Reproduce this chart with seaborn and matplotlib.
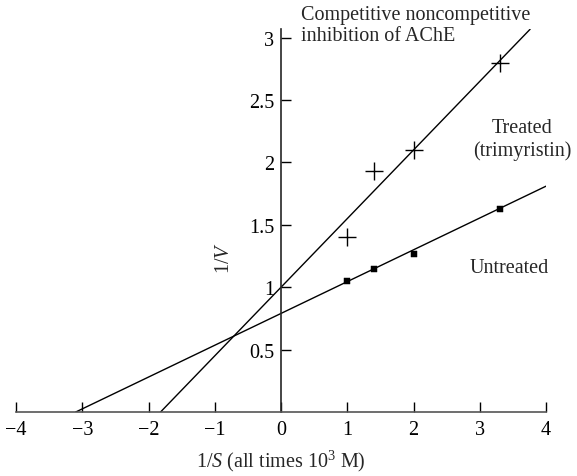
import matplotlib
matplotlib.use("Agg")
import matplotlib.pyplot as plt
import seaborn as sns
import numpy as np
import pandas as pd

# data
conc_inv = [1.0, 1.4, 2.0, 3.3]
treated_v_inv = [1.4, 1.93, 2.1, 2.8]
untreated_v_inv = [1.05, 1.15, 1.27, 1.63]

# fitted lines (intercept, slope, x range)
treated_fit = (1.0, 0.55)
treated_range = [-1.82, 3.76]
untreated_fit = (0.79, 0.255)
untreated_range = [-3.1, 4.0]

x_ticks = [-4, -3, -2, -1, 0, 1, 2, 3, 4]
y_ticks = [0.5, 1, 1.5, 2, 2.5, 3]

sns.set_style("ticks")
plt.rcParams['font.family'] = ['Liberation Serif', 'DejaVu Serif']
plt.rcParams['mathtext.fontset'] = 'custom'
plt.rcParams['mathtext.it'] = 'Liberation Serif:italic'
plt.rcParams['mathtext.rm'] = 'Liberation Serif'

fs = 14.5

fig = plt.figure(figsize=(5.77, 4.77), dpi=100)
ax = fig.add_axes([16 / 577, (477 - 413) / 477, 530 / 577, 383 / 477])

pts = pd.DataFrame({"x": conc_inv, "treated": treated_v_inv, "untreated": untreated_v_inv})

for (b0, b1), xr in [(treated_fit, treated_range), (untreated_fit, untreated_range)]:
    xs = np.array(xr)
    sns.lineplot(x=xs, y=b0 + b1 * xs, ax=ax, color="black", linewidth=1.0)

sns.scatterplot(data=pts, x="x", y="treated", marker="+", s=170, color="black",
                linewidth=1.0, ax=ax, zorder=3)
sns.scatterplot(data=pts, x="x", y="untreated", marker="s", s=18, color="black",
                edgecolor="black", ax=ax, zorder=3)

ax.set_xlim(-4, 4)
ax.set_ylim(0, 3.07)
ax.spines["top"].set_visible(False)
ax.spines["right"].set_visible(False)
ax.spines["left"].set_position(("data", 0))
ax.spines["left"].set_linewidth(1.2)
ax.spines["bottom"].set_linewidth(1.2)
ax.spines["bottom"].set_color("#555555")

ax.set_xticks(x_ticks)
ax.set_xticklabels([str(t).replace("-", "\u2212") for t in x_ticks])
ax.set_yticks(y_ticks)
ax.set_yticklabels([f"{t:g}" for t in y_ticks])
ax.tick_params(axis="both", direction="in", length=7, width=1, labelsize=fs, colors="black")
ax.tick_params(axis="x", pad=6)
ax.tick_params(axis="y", pad=5)

ax.set_xlabel(r"1/$S$ (all times 10$^{3}$ M)", fontsize=fs, labelpad=6)
ax.set_ylabel(r"1/$V$", fontsize=fs)
ax.yaxis.set_label_coords((234 - 16) / 530, (413 - 258) / 383)

ax.text(0.3, 3.1, "Competitive noncompetitive\ninhibition of AChE", fontsize=fs,
        ha="left", va="center", linespacing=1.15)
ax.text(4.38, 2.19, "Treated\n(trimyristin)", fontsize=fs, ha="right", va="center",
        multialignment="center", linespacing=1.2)
ax.text(2.85, 1.16, "Untreated", fontsize=fs, ha="left", va="center")

fig.savefig("out.png", dpi=100)
